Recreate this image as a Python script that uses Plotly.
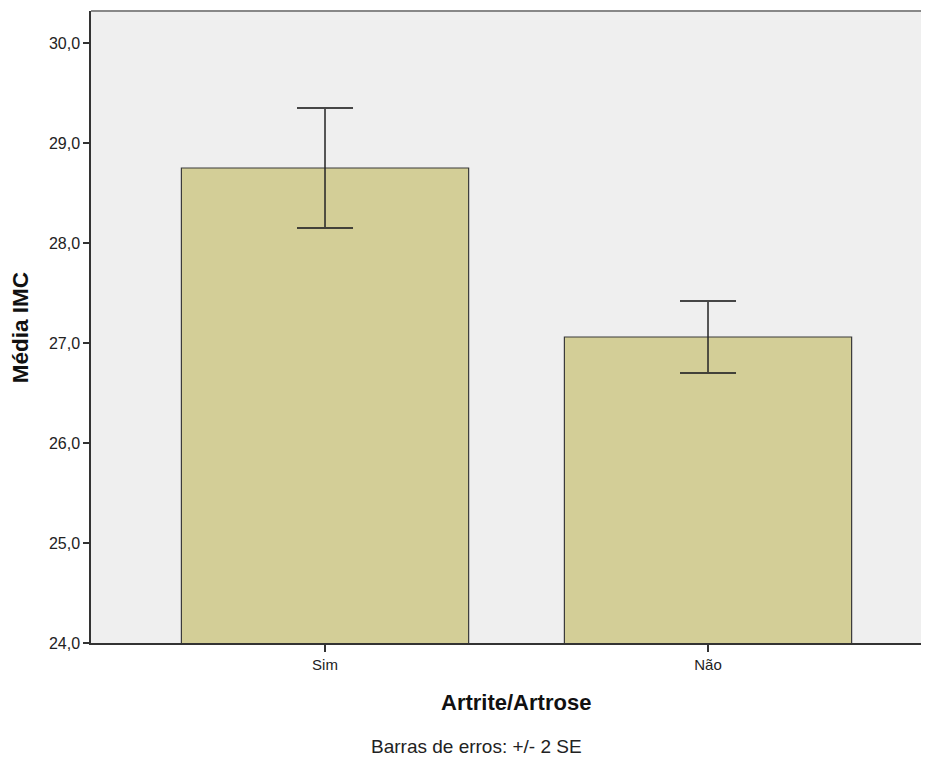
import plotly.graph_objects as go

categories = ["Sim", "Não"]
means = [28.75, 27.06]
err_2se = [0.60, 0.36]
y_ticks = [24.0, 25.0, 26.0, 27.0, 28.0, 29.0, 30.0]

font_family = "Liberation Sans, Arial, sans-serif"

fig = go.Figure()
fig.add_trace(go.Bar(
    x=categories,
    y=means,
    width=0.75,
    marker=dict(color="#D3CE97", line=dict(color="#3a3a3a", width=1.2)),
    error_y=dict(type="data", array=err_2se, visible=True,
                 color="rgba(40,40,40,0.85)", thickness=1.8, width=28),
    hoverinfo="x+y",
))

# page body has an 8px default margin; compensate so the chart lands where the reference has it
fig.update_layout(
    width=921, height=750,
    margin=dict(l=83, r=0, t=3, b=115),
    paper_bgcolor="white",
    plot_bgcolor="#EFEFEF",
    separators=",.",
    showlegend=False,
    font=dict(family=font_family, color="#222", size=16),
    xaxis=dict(
        range=[-0.611, 1.577],
        showgrid=False, zeroline=False,
        showline=True, linecolor="#333", linewidth=1.5,
        ticks="outside", ticklen=7, tickwidth=1.5, tickcolor="#333",
        tickfont=dict(size=15, family=font_family, color="#222"),
    ),
    yaxis=dict(
        range=[24.0, 30.32],
        tickvals=y_ticks,
        tickformat=".1f",
        showgrid=False, zeroline=False,
        showline=True, linecolor="#333", linewidth=1.5,
        ticks="outside", ticklen=6, tickwidth=1.5, tickcolor="#333",
        tickfont=dict(size=16, family=font_family, color="#222"),
    ),
    shapes=[dict(type="line", xref="paper", yref="paper", x0=0, x1=1, y0=1, y1=1,
                 line=dict(color="#888", width=2))],
    annotations=[
        dict(text="<b>Média IMC</b>", xref="paper", yref="paper", x=-0.0847, y=0.498,
             textangle=-90, showarrow=False, font=dict(size=22.5, family=font_family, color="#111"),
             xanchor="center", yanchor="middle"),
        dict(text="<b>Artrite/Artrose</b>", xref="paper", yref="paper", x=0.507, y=-0.0949,
             showarrow=False, font=dict(size=22, family=font_family, color="#111"),
             xanchor="center", yanchor="middle"),
        dict(text="Barras de erros: +/- 2 SE", xref="paper", yref="paper", x=0.4606, y=-0.163,
             showarrow=False, font=dict(size=19, family=font_family, color="#222"),
             xanchor="center", yanchor="middle"),
    ],
)

fig.write_html("out.html")
